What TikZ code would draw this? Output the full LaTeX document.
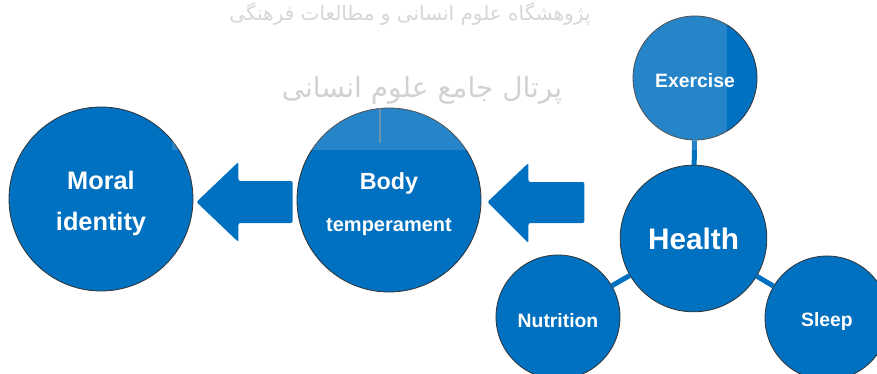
\documentclass[tikz,border=0pt]{standalone}
\usepackage{fontspec}
\setmainfont{Liberation Sans}
\newfontfamily\arabicfont[Script=Arabic]{DejaVu Sans}
\TeXXeTstate=1
\usetikzlibrary{calc}
\definecolor{hblue}{RGB}{0,112,192}
\definecolor{hline}{RGB}{51,51,51}
\tikzset{every picture/.style={line width=0.75pt},
  bubble/.style={circle, fill=hblue, draw=hline, line width=0.6pt, inner sep=0pt, text=white, align=center},
  blockarrow/.style={fill=hblue, rounded corners=1.5pt},
  spoke/.style={draw=hblue, line width=3.75pt}}

\begin{document}
\begin{tikzpicture}[x=0.75pt,y=0.75pt,yscale=-1,xscale=1]
\useasboundingbox (0,0) rectangle (877,374);

%Shape: Circle [moral]
\node [bubble, minimum size=138pt, font=\bfseries\fontsize{19}{31}\selectfont] (moral) at (101,199) {\rule{0pt}{20pt}Moral\\identity};
%Shape: Circle [body]
\node [bubble, minimum size=138pt, font=\bfseries\fontsize{15}{32}\selectfont] (body) at (389,200) {\rule{0pt}{19pt}{\fontsize{17.5}{32}\selectfont Body}\\temperament};
%Shape: Circle [health]
\node [bubble, minimum size=110pt, font=\bfseries\fontsize{22.3}{26}\selectfont] (health) at (693.5,238.5) {Health};
%Shape: Circle [exercise]
\node [bubble, minimum size=93pt, font=\bfseries\fontsize{14.5}{17}\selectfont] (exercise) at (695,78) {\rule{0pt}{14.4pt}Exercise};
%Shape: Circle [nutrition]
\node [bubble, minimum size=93pt, font=\bfseries\fontsize{14.5}{17}\selectfont] (nutrition) at (558,317) {\rule{0pt}{15.4pt}Nutrition};
%Shape: Circle [sleep]
\node [bubble, minimum size=93pt, font=\bfseries\fontsize{14.5}{17}\selectfont] (sleep) at (827,318) {\rule{0pt}{15.2pt}Sleep};

%Straight Lines [spokes]
\draw [spoke] (health) -- (exercise);
\draw [spoke] (health) -- (nutrition);
\draw [spoke] (health) -- (sleep);

%Shape: Left Arrow [body to moral]
\coordinate (tipA) at ($(moral.east)+(3,3)$);
\fill [blockarrow] (tipA) -- ++(42,-40) -- ++(0,19) -| ($(body.west)+(-4,23)$) -- ($(tipA)+(42,21)$) -- ++(0,19) -- cycle;
%Shape: Left Arrow [health to body]
\coordinate (tipB) at ($(body.east)+(6,2)$);
\fill [blockarrow] (tipB) -- ++(41,-39) -- ++(0,19) -| ($(tipB)+(97,21)$) -- ($(tipB)+(41,21)$) -- ++(0,20) -- cycle;

%Shape: Rectangle [watermark veil]
\fill [white, opacity=0.15] (172,0) rectangle (727,150);
% Text Node
\node [text=black!16, font=\arabicfont\fontsize{15}{17}\selectfont] (wmtop) at (410,14) {\beginR پژوهشگاه علوم انسانی و مطالعات فرهنگی\endR};
% Text Node
\node [text=black!18, font=\arabicfont\fontsize{21}{24}\selectfont] (wmark) at (422,90) {\beginR پرتال جامع علوم انسانی\endR};
%Straight Lines [watermark stroke]
\draw [black!40, opacity=0.6, line width=1.5pt] (380,108) -- (380,143);

\end{tikzpicture}
\end{document}
